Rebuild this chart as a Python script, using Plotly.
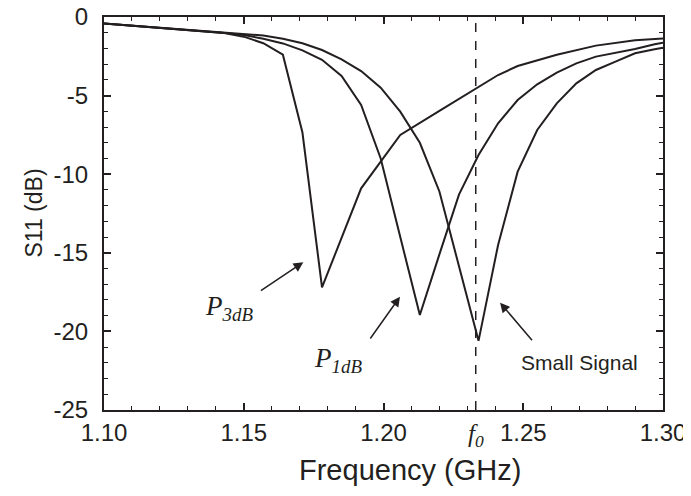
import plotly.graph_objects as go

# ---- data ----
freq_p3db = [1.100, 1.115, 1.129, 1.143, 1.150, 1.157, 1.164, 1.171, 1.178, 1.185, 1.192, 1.199, 1.206, 1.220, 1.234, 1.241, 1.248, 1.262, 1.276, 1.290, 1.300]
s11_p3db = [-0.42, -0.62, -0.80, -1.02, -1.25, -1.67, -2.40, -7.35, -17.2, -14.0, -10.9, -9.2, -7.5, -5.97, -4.43, -3.69, -3.12, -2.40, -1.82, -1.48, -1.36]

freq_p1db = [1.100, 1.115, 1.129, 1.143, 1.150, 1.157, 1.164, 1.171, 1.178, 1.185, 1.192, 1.199, 1.206, 1.213, 1.220, 1.227, 1.234, 1.241, 1.248, 1.255, 1.262, 1.269, 1.276, 1.283, 1.290, 1.297, 1.300]
s11_p1db = [-0.42, -0.62, -0.80, -1.01, -1.15, -1.38, -1.68, -2.12, -2.72, -3.75, -5.6, -9.0, -14.0, -18.96, -15.1, -11.3, -8.78, -6.76, -5.28, -4.28, -3.54, -2.95, -2.52, -2.27, -2.04, -1.74, -1.63]

freq_ss = [1.100, 1.115, 1.129, 1.143, 1.150, 1.157, 1.164, 1.171, 1.178, 1.185, 1.192, 1.199, 1.206, 1.213, 1.220, 1.234, 1.241, 1.248, 1.255, 1.262, 1.269, 1.276, 1.283, 1.290, 1.297, 1.300]
s11_ss = [-0.42, -0.62, -0.80, -0.99, -1.08, -1.18, -1.38, -1.67, -2.10, -2.69, -3.44, -4.50, -6.02, -8.0, -11.1, -20.6, -14.5, -9.84, -7.19, -5.49, -4.22, -3.37, -2.84, -2.31, -2.05, -1.96]

f0 = 1.233

x_tickvals = [1.10, 1.15, 1.20, 1.25, 1.30]
x_ticktext = ["1.10", "1.15", "1.20", "1.25", "1.30"]
y_tickvals = [0, -5, -10, -15, -20, -25]
y_ticktext = ["0", "-5", "-10", "-15", "-20", "-25"]
x_title = "Frequency (GHz)"
y_title = "S11 (dB)"

# annotation labels and arrows (tail -> head), in data units
label_text = ["<i>P</i><sub><i>3dB</i></sub>", "<i>P</i><sub><i>1dB</i></sub>", "Small Signal"]
label_x = [1.1447, 1.1837, 1.2700]
label_y = [-18.5, -21.8, -21.95]
arrow_tail_x = [1.1556, 1.1949, 1.2536]
arrow_tail_y = [-17.47, -20.55, -20.66]
arrow_head_x = [1.1713, 1.2059, 1.2417]
arrow_head_y = [-15.6, -17.79, -18.17]

SANS = "Liberation Sans, Arial, sans-serif"
SERIF = "Liberation Serif, Times New Roman, serif"
INK = "#231f20"

fig = go.Figure()
for fx, sy in [(freq_p3db, s11_p3db), (freq_p1db, s11_p1db), (freq_ss, s11_ss)]:
    fig.add_trace(go.Scatter(x=fx, y=sy, mode="lines",
                             line=dict(color=INK, width=2), showlegend=False))

fig.add_shape(type="line", x0=f0, x1=f0, y0=-25, y1=0, xref="x", yref="y",
              line=dict(color=INK, width=1.5, dash="dash"))

for hx, hy, tx, ty in zip(arrow_head_x, arrow_head_y, arrow_tail_x, arrow_tail_y):
    fig.add_annotation(x=hx, y=hy, ax=tx, ay=ty, xref="x", yref="y", axref="x", ayref="y",
                       text="", showarrow=True, arrowhead=2, arrowsize=1.3, arrowwidth=1.5,
                       arrowcolor=INK, standoff=0, startstandoff=0)

fonts = [dict(family=SERIF, size=27, color=INK),
         dict(family=SERIF, size=27, color=INK),
         dict(family=SANS, size=21, color=INK)]
for t, lx, ly, fnt in zip(label_text, label_x, label_y, fonts):
    fig.add_annotation(x=lx, y=ly, xref="x", yref="y", text=t, showarrow=False, font=fnt)

fig.add_annotation(x=f0, y=-0.066, xref="x", yref="paper", yanchor="middle", xanchor="center",
                   text="<i>f</i><sub><i>0</i></sub>", showarrow=False,
                   font=dict(family=SERIF, size=25, color=INK))

# axis titles (placed as in the reference)
fig.add_annotation(x=0.547, y=-0.153, xref="paper", yref="paper", xanchor="center", yanchor="middle",
                   text=x_title, showarrow=False, font=dict(family=SANS, size=29, color=INK))
fig.add_annotation(x=-0.127, y=0.5, xref="paper", yref="paper", xanchor="center", yanchor="middle",
                   text=y_title, textangle=-90, showarrow=False,
                   font=dict(family=SANS, size=23, color=INK))

axis_common = dict(showline=True, linecolor=INK, linewidth=2, mirror="ticks",
                   ticks="inside", ticklen=7, tickwidth=1.5, tickcolor=INK,
                   showgrid=False, zeroline=False, automargin=False,
                   ticklabeloverflow="allow",
                   tickfont=dict(family=SANS, size=24, color=INK))

fig.update_xaxes(range=[1.10, 1.30], tickmode="array", tickvals=x_tickvals, ticktext=x_ticktext,
                 minor=dict(tick0=1.10, dtick=0.01, ticks="inside", ticklen=4, tickwidth=1.2,
                            tickcolor=INK, showgrid=False),
                 **axis_common)
fig.update_yaxes(range=[-25, 0], tickmode="array", tickvals=y_tickvals, ticktext=y_ticktext,
                 ticklabelstandoff=9,
                 minor=dict(tick0=0, dtick=1, ticks="inside", ticklen=4, tickwidth=1.2,
                            tickcolor=INK, showgrid=False),
                 **axis_common)

fig.update_layout(width=683, height=488, margin=dict(l=96, r=28, t=9, b=86),
                  plot_bgcolor="white", paper_bgcolor="white")

fig.write_html("out.html")
